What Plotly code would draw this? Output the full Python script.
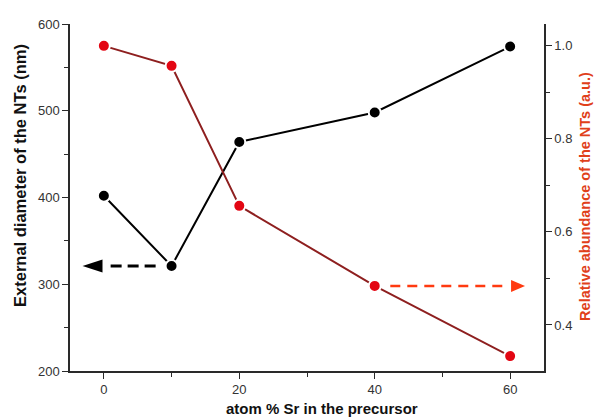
import plotly.graph_objects as go

# data
sr_pct = [0, 10, 20, 40, 60]
diameter_nm = [402, 321, 464, 498, 574]
rel_abundance = [1.0, 0.957, 0.656, 0.484, 0.333]

# arrow annotations (data coords)
black_arrow_x = [1.0, 7.8]
black_arrow_y = [321, 321]
black_head_tip = -3.15
red_arrow_x = [42.3, 59.6]
red_arrow_y = [0.484, 0.484]
red_head_tip = 62.2

x_ticks = [0, 20, 40, 60]
y_ticks = [200, 300, 400, 500, 600]
y2_ticks = [0.4, 0.6, 0.8, 1.0]

x_title = "atom % Sr in the precursor"
y_title = "External diameter of the NTs (nm)"
y2_title = "Relative abundance of the NTs (a.u.)"

FONT = "Liberation Sans, Arial, sans-serif"
RED_LINE = "#8e1f1f"
RED_MARK = "#e30613"
RED_TEXT = "#e0401a"
RED_ARROW = "#ff3a10"
AX = "#2a2a2a"

fig = go.Figure()

fig.add_trace(go.Scatter(
    x=sr_pct, y=diameter_nm, mode="lines+markers",
    line=dict(color="black", width=2),
    marker=dict(color="black", size=12, line=dict(color="white", width=2)),
    yaxis="y", showlegend=False))

fig.add_trace(go.Scatter(
    x=sr_pct, y=rel_abundance, mode="lines+markers",
    line=dict(color=RED_LINE, width=2),
    marker=dict(color=RED_MARK, size=12, line=dict(color="white", width=2)),
    yaxis="y2", showlegend=False))

# black dashed arrow shaft
fig.add_trace(go.Scatter(
    x=black_arrow_x, y=black_arrow_y, mode="lines",
    line=dict(color="black", width=3, dash="11px,6px"),
    yaxis="y", showlegend=False, hoverinfo="skip"))
# red dashed arrow shaft
fig.add_trace(go.Scatter(
    x=red_arrow_x, y=red_arrow_y, mode="lines",
    line=dict(color=RED_ARROW, width=2.5, dash="10px,7px"),
    yaxis="y2", showlegend=False, hoverinfo="skip"))

# arrow heads (pixel-sized paths anchored at data points)
fig.add_shape(type="path", xref="x", yref="y", xsizemode="pixel", ysizemode="pixel",
              xanchor=black_head_tip, yanchor=black_arrow_y[0],
              path="M0,0 L20,6.5 L20,-6.5 Z", fillcolor="black", line=dict(width=0))
fig.add_shape(type="path", xref="x", yref="y2", xsizemode="pixel", ysizemode="pixel",
              xanchor=red_head_tip, yanchor=red_arrow_y[0],
              path="M0,0 L-14,6 L-14,-6 Z", fillcolor=RED_ARROW, line=dict(width=0))

# axis titles as annotations (positioned like the reference)
fig.add_annotation(text="<b>%s</b>" % y_title, xref="paper", yref="paper",
                   x=-0.1055, y=0.565, xanchor="center", yanchor="middle",
                   textangle=-90, showarrow=False, font=dict(size=16.5, color="#111"))
fig.add_annotation(text="<b>%s</b>" % y2_title, xref="paper", yref="paper",
                   x=1.086, y=0.504, xanchor="center", yanchor="middle",
                   textangle=-90, showarrow=False, font=dict(size=14.5, color=RED_TEXT))
fig.add_annotation(text="<b>%s</b>" % x_title, xref="paper", yref="paper",
                   x=0.5316, y=-0.107, xanchor="center", yanchor="middle",
                   showarrow=False, font=dict(size=15, color="#111"))

fig.update_layout(
    width=594, height=419,
    margin=dict(l=70, r=50, t=24, b=48),
    paper_bgcolor="white", plot_bgcolor="white",
    font=dict(family=FONT, size=13, color="#333333"),
    xaxis=dict(
        range=[-5, 65], tickvals=x_ticks, ticks="outside", ticklen=6,
        tickwidth=1.2, tickcolor=AX, showline=True, linecolor=AX, linewidth=1.5,
        showgrid=False, zeroline=False, automargin=False,
        minor=dict(dtick=10, tick0=0, ticks="outside", ticklen=4, tickcolor=AX),
    ),
    yaxis=dict(
        range=[200, 600], tickvals=y_ticks, ticks="outside", ticklen=6,
        tickwidth=1.2, tickcolor=AX, showline=True, linecolor=AX, linewidth=1.5,
        showgrid=False, zeroline=False, automargin=False,
        minor=dict(dtick=50, tick0=200, ticks="outside", ticklen=4, tickcolor=AX),
    ),
    yaxis2=dict(
        range=[0.301, 1.047], tickvals=y2_ticks, tickformat=".1f", overlaying="y", side="right",
        ticks="outside", ticklen=6, tickwidth=1.2, tickcolor=AX,
        showline=True, linecolor=AX, linewidth=1.5,
        showgrid=False, zeroline=False, automargin=False,
        minor=dict(dtick=0.1, tick0=0.3, ticks="outside", ticklen=4, tickcolor=AX),
    ),
)

fig.write_html("out.html")
